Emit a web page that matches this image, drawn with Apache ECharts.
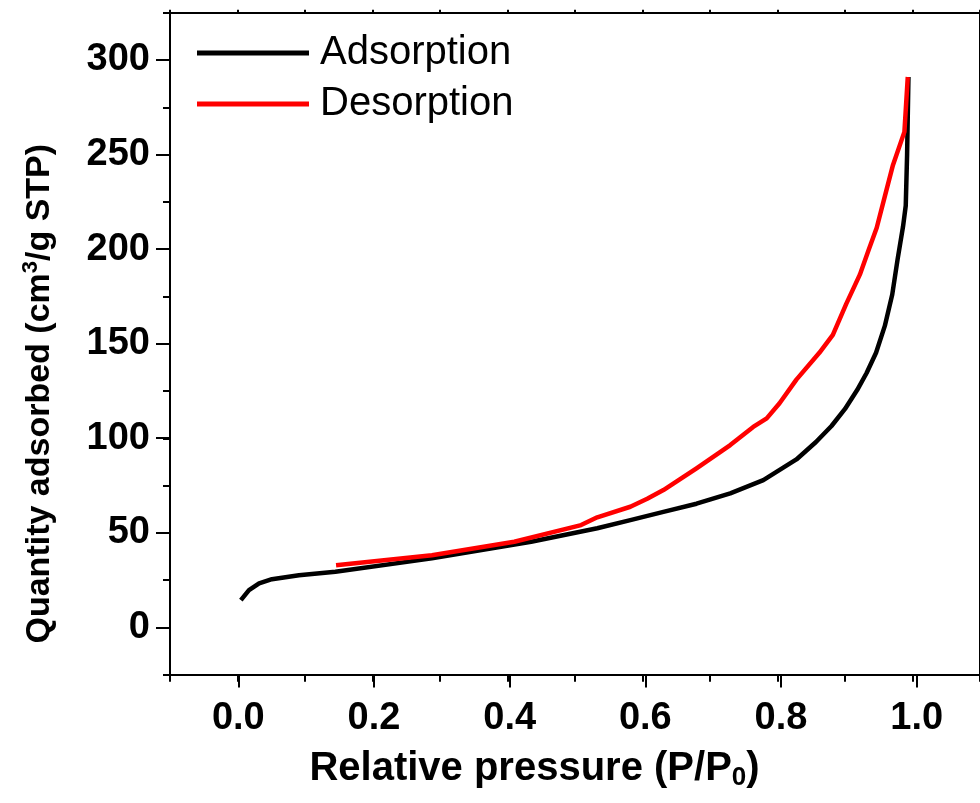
<!DOCTYPE html>
<html><head><meta charset="utf-8">
<script src="https://cdn.jsdelivr.net/npm/echarts@6/dist/echarts.min.js"></script>
<style>html,body{margin:0;padding:0;background:#fff}#c{width:980px;height:803px}</style>
</head><body><div id="c"></div>
<script>
// ---- data ----
const seriesNames = ['Adsorption', 'Desorption'];
const adsorptionX = [0.005, 0.017, 0.032, 0.051, 0.091, 0.145, 0.288, 0.435, 0.533, 0.582, 0.631, 0.680, 0.730, 0.779, 0.828, 0.857, 0.880, 0.900, 0.918, 0.932, 0.946, 0.959, 0.970, 0.978, 0.986, 0.990, 0.992, 0.994];
const adsorptionY = [14.4, 19.7, 23.3, 25.5, 27.6, 29.4, 36.5, 45.3, 52.4, 56.7, 61.1, 65.4, 70.9, 77.9, 88.8, 98.0, 106.5, 115.5, 125.5, 134.5, 145.2, 159.4, 176.0, 194.8, 212.0, 223.0, 250.0, 291.0];
const desorptionX = [0.993, 0.988, 0.971, 0.959, 0.947, 0.935, 0.922, 0.902, 0.882, 0.862, 0.828, 0.803, 0.784, 0.764, 0.730, 0.680, 0.631, 0.607, 0.582, 0.533, 0.509, 0.410, 0.288, 0.146];
const desorptionY = [291.0, 262.0, 244.4, 227.9, 211.3, 199.5, 186.5, 171.2, 154.7, 145.2, 131.0, 118.5, 110.5, 106.0, 96.4, 84.1, 72.6, 68.0, 63.8, 58.2, 54.1, 45.3, 38.2, 32.9];
const xTickLabels = ['0.0', '0.2', '0.4', '0.6', '0.8', '1.0'];
const yTickLabels = ['0', '50', '100', '150', '200', '250', '300'];
const xAxisTitle = '{a|Relative pressure (P/P}{s|0}{a|)}';
const yAxisTitle = '{a|Quantity adsorbed (cm}{p|3}{a|/g STP)}';

const pairs = (xs, ys) => xs.map((x, i) => [x, ys[i]]);
const FF = '"Liberation Sans", Arial, sans-serif';

const chart = echarts.init(document.getElementById('c'), null, {renderer: 'canvas'});
const lineAx = {show: true, onZero: false, lineStyle: {color: '#000', width: 2}};
const noLine = {show: false, onZero: false};

chart.setOption({
  animation: false,
  backgroundColor: '#fff',
  grid: [
    {left: 170, top: 12.7, width: 814, height: 662, containLabel: false},
    {left: 238.3, top: 60, width: 678.4, height: 567.3, containLabel: false}
  ],
  legend: {
    orient: 'vertical', left: 192, top: 26,
    itemWidth: 112, itemHeight: 5, icon: 'rect', itemGap: 7,
    data: seriesNames,
    textStyle: {fontFamily: FF, fontSize: 40, color: '#000', padding: [0, 0, 0, 6], lineHeight: 44}
  },
  xAxis: [
    {gridIndex: 0, type: 'value', position: 'bottom', min: -0.1, max: 1.1, interval: 0.1,
     axisLine: lineAx, axisTick: {show: true, inside: false, length: 7, lineStyle: {color: '#000', width: 2}},
     axisLabel: {show: false}, splitLine: {show: false}},
    {gridIndex: 0, type: 'value', position: 'top', min: -0.1, max: 1.1, interval: 0.1,
     axisLine: lineAx, axisTick: {show: true, inside: false, length: 3, lineStyle: {color: '#000', width: 2}},
     axisLabel: {show: false}, splitLine: {show: false}},
    {gridIndex: 1, type: 'value', position: 'bottom', offset: 47.3, min: 0, max: 1, interval: 0.2,
     axisLine: noLine, axisTick: {show: true, inside: false, length: 13, lineStyle: {color: '#000', width: 2}},
     axisLabel: {show: true, margin: 25, fontFamily: FF, fontWeight: 'bold', fontSize: 38, color: '#000',
       formatter: (v) => xTickLabels[Math.round(v / 0.2)] || ''},
     splitLine: {show: false},
     name: xAxisTitle, nameLocation: 'middle', nameGap: 72,
     nameTextStyle: {fontFamily: FF, fontWeight: 'bold', fontSize: 40, color: '#000', padding: [0, 86, 0, 0],
       rich: {a: {fontFamily: FF, fontWeight: 'bold', fontSize: 40, color: '#000', lineHeight: 44},
              s: {fontFamily: FF, fontWeight: 'bold', fontSize: 26, color: '#000', lineHeight: 22, verticalAlign: 'bottom'}}}}
  ],
  yAxis: [
    {gridIndex: 0, type: 'value', position: 'left', min: -25, max: 325, interval: 25,
     axisLine: lineAx, axisTick: {show: true, inside: false, length: 7, lineStyle: {color: '#000', width: 2}},
     axisLabel: {show: false}, splitLine: {show: false},
     name: yAxisTitle, nameLocation: 'middle', nameGap: 110, nameRotate: 90,
     nameTextStyle: {fontFamily: FF, fontWeight: 'bold', fontSize: 34, color: '#000', padding: [0, 100, 0, 0],
       rich: {a: {fontFamily: FF, fontWeight: 'bold', fontSize: 34, color: '#000', lineHeight: 40},
              p: {fontFamily: FF, fontWeight: 'bold', fontSize: 22, color: '#000', lineHeight: 22, verticalAlign: 'top'}}}},
    {gridIndex: 0, type: 'value', position: 'right', min: -25, max: 325, interval: 25,
     axisLine: lineAx, axisTick: {show: true, inside: false, length: 7, lineStyle: {color: '#000', width: 2}},
     axisLabel: {show: false}, splitLine: {show: false}},
    {gridIndex: 1, type: 'value', position: 'left', offset: 68.3, min: 0, max: 300, interval: 50,
     axisLine: noLine, axisTick: {show: true, inside: false, length: 14, lineStyle: {color: '#000', width: 2}},
     axisLabel: {show: true, margin: 20, fontFamily: FF, fontWeight: 'bold', fontSize: 38, color: '#000',
       formatter: (v) => yTickLabels[Math.round(v / 50)] || ''},
     splitLine: {show: false}}
  ],
  series: [
    {name: seriesNames[0], type: 'line', xAxisIndex: 0, yAxisIndex: 0, data: pairs(adsorptionX, adsorptionY),
     symbol: 'none', showSymbol: false, smooth: false, color: '#000000',
     lineStyle: {color: '#000000', width: 4.5, join: 'round', cap: 'butt'}, z: 2},
    {name: seriesNames[1], type: 'line', xAxisIndex: 0, yAxisIndex: 0, data: pairs(desorptionX, desorptionY),
     symbol: 'none', showSymbol: false, smooth: false, color: '#ff0000',
     lineStyle: {color: '#ff0000', width: 4.5, join: 'round', cap: 'butt'}, z: 3}
  ]
});
</script>
</body></html>
